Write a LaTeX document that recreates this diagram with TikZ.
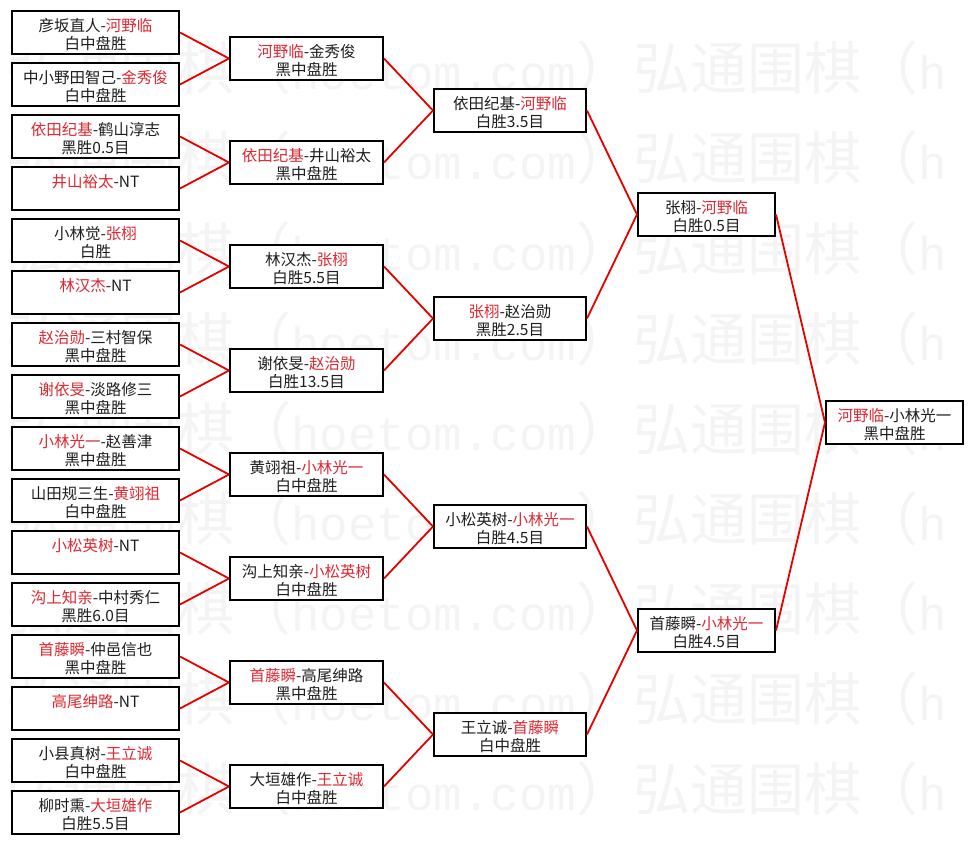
\documentclass[tikz,border=0pt]{standalone}
\usepackage{fontspec}
\setmainfont{Noto Sans CJK SC}
\newfontfamily\wmlatin{Liberation Mono}
\usetikzlibrary{calc}
\definecolor{winred}{RGB}{222,40,50}
\definecolor{linkred}{RGB}{230,0,0}
\definecolor{inkcol}{RGB}{30,30,30}
\definecolor{wmgray}{RGB}{244,244,244}
\newcommand\W[1]{\textcolor{winred}{#1}}
\newcommand\mbx[6]{%
  \node[mbox, minimum width=#4] (#1) at (#2,#3) {};
  \node[mtext] (#1l1) at ($(#1.north)+(0,21.5)$) {#5};
  \node[mtext] (#1l2) at ($(#1.north)+(0,39.5)$) {#6};}
\newcommand\wmtext{{\fontsize{57}{57}\selectfont 弘通围棋（{\wmlatin\fontsize{47.5}{57}\selectfont hoetom.com}）}}
\newcommand\wmcut{{\fontsize{57}{57}\selectfont 弘通围棋（{\wmlatin\fontsize{47.5}{57}\selectfont h}}}
\tikzset{
  mbox/.style={draw=black, line width=2pt, fill=white, minimum height=43pt, inner sep=0pt},
  mtext/.style={anchor=base, inner sep=0pt, text=inkcol, font=\fontsize{15.5}{18}\selectfont},
  link/.style={draw=linkred, line width=1.8pt},
  wm/.style={anchor=base west, inner sep=0pt, text=wmgray}
}
\begin{document}
\begin{tikzpicture}[x=1pt,y=-1pt]
\useasboundingbox (0,0) rectangle (974,845);
\fill[white] (0,0) rectangle (974,845);
% watermark
\foreach \r in {0,...,8}{
  \node[wm] (wmA\r) at (6,{90+90*\r}) {\wmtext};
  \node[wm] (wmB\r) at (633,{90+90*\r}) {\wmcut};
}
% round 1
\mbx{a1}{95.5}{32.5}{167}{彦坂直人-\W{河野临}}{白中盘胜}
\mbx{a2}{95.5}{84.5}{167}{中小野田智己-\W{金秀俊}}{白中盘胜}
\mbx{a3}{95.5}{136.5}{167}{\W{依田纪基}-鹤山淳志}{黑胜0.5目}
\mbx{a4}{95.5}{188.5}{167}{\W{井山裕太}-NT}{}
\mbx{a5}{95.5}{240.5}{167}{小林觉-\W{张栩}}{白胜}
\mbx{a6}{95.5}{292.5}{167}{\W{林汉杰}-NT}{}
\mbx{a7}{95.5}{344.5}{167}{\W{赵治勋}-三村智保}{黑中盘胜}
\mbx{a8}{95.5}{396.5}{167}{\W{谢依旻}-淡路修三}{黑中盘胜}
\mbx{a9}{95.5}{448.5}{167}{\W{小林光一}-赵善津}{黑中盘胜}
\mbx{a10}{95.5}{500.5}{167}{山田规三生-\W{黄翊祖}}{白中盘胜}
\mbx{a11}{95.5}{552.5}{167}{\W{小松英树}-NT}{}
\mbx{a12}{95.5}{604.5}{167}{\W{沟上知亲}-中村秀仁}{黑胜6.0目}
\mbx{a13}{95.5}{656.5}{167}{\W{首藤瞬}-仲邑信也}{黑中盘胜}
\mbx{a14}{95.5}{708.5}{167}{\W{高尾绅路}-NT}{}
\mbx{a15}{95.5}{760.5}{167}{小县真树-\W{王立诚}}{白中盘胜}
\mbx{a16}{95.5}{812.5}{167}{柳时熏-\W{大垣雄作}}{白胜5.5目}
% round 2
\mbx{b1}{306.5}{58.5}{153}{\W{河野临}-金秀俊}{黑中盘胜}
\mbx{b2}{306.5}{162.5}{153}{\W{依田纪基}-井山裕太}{黑中盘胜}
\mbx{b3}{306.5}{266.5}{153}{林汉杰-\W{张栩}}{白胜5.5目}
\mbx{b4}{306.5}{370.5}{153}{谢依旻-\W{赵治勋}}{白胜13.5目}
\mbx{b5}{306.5}{474.5}{153}{黄翊祖-\W{小林光一}}{白中盘胜}
\mbx{b6}{306.5}{578.5}{153}{沟上知亲-\W{小松英树}}{白中盘胜}
\mbx{b7}{306.5}{682.5}{153}{\W{首藤瞬}-高尾绅路}{黑中盘胜}
\mbx{b8}{306.5}{786.5}{153}{大垣雄作-\W{王立诚}}{白中盘胜}
% round 3
\mbx{c1}{510}{110.5}{152}{依田纪基-\W{河野临}}{白胜3.5目}
\mbx{c2}{510}{318.5}{152}{\W{张栩}-赵治勋}{黑胜2.5目}
\mbx{c3}{510}{526.5}{152}{小松英树-\W{小林光一}}{白胜4.5目}
\mbx{c4}{510}{734.5}{152}{王立诚-\W{首藤瞬}}{白中盘胜}
% round 4
\mbx{d1}{706.5}{214.5}{137}{张栩-\W{河野临}}{白胜0.5目}
\mbx{d2}{706.5}{630.5}{137}{首藤瞬-\W{小林光一}}{白胜4.5目}
% final
\mbx{e1}{894.5}{422.5}{137}{\W{河野临}-小林光一}{黑中盘胜}
% links
\foreach \s/\t in {a1/b1,a2/b1,a3/b2,a4/b2,a5/b3,a6/b3,a7/b4,a8/b4,
                   a9/b5,a10/b5,a11/b6,a12/b6,a13/b7,a14/b7,a15/b8,a16/b8,
                   b1/c1,b2/c1,b3/c2,b4/c2,b5/c3,b6/c3,b7/c4,b8/c4,
                   c1/d1,c2/d1,c3/d2,c4/d2,d1/e1,d2/e1}
  \draw[link] (\s.east) -- (\t.west);
\end{tikzpicture}
\end{document}
